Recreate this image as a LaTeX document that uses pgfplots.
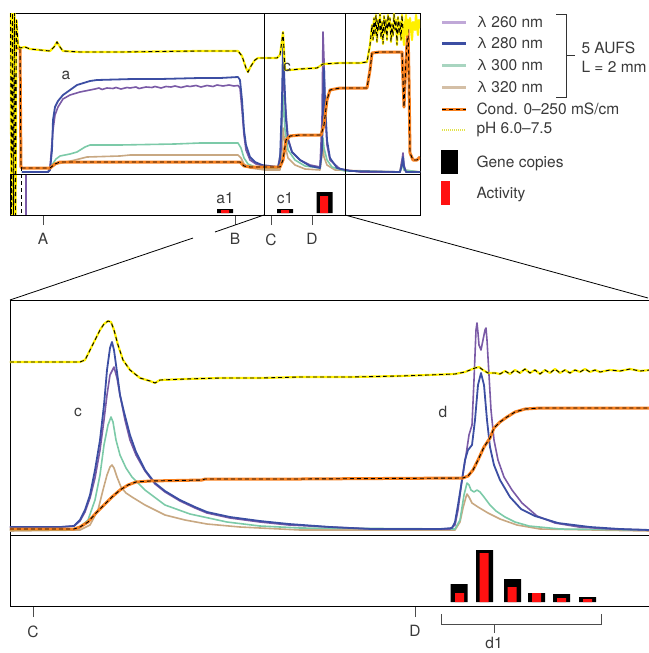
\documentclass[border=0pt]{standalone}
\usepackage{pgfplots}
\pgfplotsset{compat=1.18}
\usepackage{fontspec}
\setmainfont{TeX Gyre Heros}

\definecolor{c260}{HTML}{7A5AA6}
\definecolor{c280}{HTML}{3C4EA3}
\definecolor{c300}{HTML}{7CCAA8}
\definecolor{c320}{HTML}{C8A882}
\definecolor{cond}{HTML}{F7801E}
\definecolor{ph}{HTML}{FFF000}
\definecolor{actred}{HTML}{FF1111}
\definecolor{txt}{HTML}{3A3A3A}
\definecolor{l260}{HTML}{C0A8D8}
\definecolor{l300}{HTML}{A8D5C0}
\definecolor{l320}{HTML}{D4BFA6}
\definecolor{lph}{HTML}{E3E34A}

\pgfplotsset{
  panel/.style={scale only axis, no markers, axis line style={black, line width=0.9pt}, ticks=none},
  w260/.style={c260, line width=1.6pt, line join=round},
  w280/.style={c280, line width=1.8pt, line join=round},
  w300/.style={c300, line width=1.6pt, line join=round},
  w320/.style={c320, line width=1.6pt, line join=round},
  wcond/.style={cond, line width=3pt, line join=round},
  wph/.style={ph, line width=2.2pt, line join=round},
  wdash/.style={black, line width=0.9pt, dash pattern=on 4pt off 3pt},
  barax/.style={scale only axis, axis line style={black, line width=0.9pt}, ytick=\empty,
    xtick pos=lower, tick align=outside, major tick length=10pt,
    tick style={black!70, line width=0.8pt}, xticklabel style={yshift=-5pt}},
}

\begin{document}
\begin{tikzpicture}[font=\fontsize{15.5}{18}\selectfont, every node/.append style={text=txt}]
\useasboundingbox (0pt,0pt) rectangle (648pt,-653pt);

% ---------- top panel, traces ----------
\begin{axis}[panel, at={(10pt,-13pt)}, anchor=north west, width=410pt, height=202pt,
  xmin=10, xmax=420, ymin=13, ymax=215, y dir=reverse]
\addplot[w320] coordinates {(22,172) (48,172) (52,167) (56,164) (62,163) (75,160) (87,157) (120,156) (130,155) (238,155) (241,158) (244,164) (250,168) (265,170) (280,170) (282,150) (283,128) (285,145) (288,158) (295,165) (305,169) (320,170) (322,155) (323,147) (324,157) (327,165) (335,170) (400,172) (402,160) (404,170) (420,172)};
\addplot[w300] coordinates {(22,172) (48,172) (52,165) (56,159) (60,156) (70,154) (77,152) (85,147) (90,145) (120,145) (175,144) (200,143) (238,143) (241,148) (244,158) (248,164) (255,167) (265,168) (278,168) (281,150) (283,95) (285,130) (288,150) (295,160) (305,166) (320,168) (322,150) (323,138) (324,148) (327,160) (332,167) (345,171) (400,172) (402,163) (404,170) (420,172)};
\addplot[w260] coordinates {(30,172) (48,172) (50,168) (53,130) (55,115) (58,107) (63,99) (70,95) (80,92) (90,90) (95,89) (99,88) (102,89.5) (107,88) (113,88.5) (116,87.5) (121,89) (127,87.5) (130,88) (136,87) (139,88.5) (146,87) (152,87.5) (155,86.5) (161,88) (166,86.5) (171,87) (175,86) (181,87.5) (187,86) (190,86.5) (196,85.5) (201,87) (207,85.5) (213,86.5) (217,85) (223,86) (229,85) (234,86) (238,85.5) (240,88) (242,110) (244,135) (246,150) (250,160) (256,164) (264,166) (278,167) (281,150) (283,68) (285,100) (288,138) (292,152) (300,160) (310,165) (320,167) (322,120) (323,32) (324,60) (325,110) (327,145) (330,160) (340,169) (360,172) (400,172) (402,160) (403,153) (404,165) (406,172) (420,172)};
\addplot[w260] coordinates {(26,174) (26,215)};
\addplot[w280] coordinates {(22,172) (48,172) (50,170) (52,150) (53,120) (55,107) (58,101) (63,95) (70,90) (77,85) (90,81) (97,80) (133,79) (160,79) (200,78) (220,78) (238,77) (240,80) (242,100) (244,130) (246,145) (250,157) (255,162) (262,165) (270,166) (278,167) (280,160) (282,100) (283,45) (284,70) (286,120) (288,140) (292,152) (300,160) (310,166) (320,168) (322,150) (323,110) (324,68) (325,100) (327,140) (330,158) (337,168) (350,171) (400,172) (402,165) (403,157) (404,167) (406,172) (420,172)};
\addplot[wcond] coordinates {(12,215) (13,48) (20,48) (21,167) (22,168) (50,168) (55,164) (60,162) (240,162) (244,166) (250,167) (280,167) (283,160) (286,140) (290,136) (300,135) (321,135) (324,125) (327,100) (330,90) (340,88) (367,88) (370,70) (372,53) (380,52) (402,52) (403,80) (404,107) (406,60) (408,25) (409,80) (410,153) (413,160) (417,160) (420,157)};
\addplot[wdash] coordinates {(12,215) (13,48) (20,48) (21,167) (22,168) (50,168) (55,164) (60,162) (240,162) (244,166) (250,167) (280,167) (283,160) (286,140) (290,136) (300,135) (321,135) (324,125) (327,100) (330,90) (340,88) (367,88) (370,70) (372,53) (380,52) (402,52) (403,80) (404,107) (406,60) (408,25) (409,80) (410,153) (413,160) (417,160) (420,157)};
\addplot[wdash] coordinates {(21,167) (21,215)};
\addplot[wph] coordinates {(10.5,13) (11.5,215) (12.5,13) (13.5,215) (14.5,13) (15.5,215) (16.5,20) (18,45) (20,48) (25,47) (30,49) (40,50) (50,51) (54,47) (57,42) (60,47) (63,51) (80,52) (120,52) (200,51) (238,51) (242,56) (246,68) (248,72) (251,66) (255,60) (258,58) (277,58) (280,55) (282,40) (283,32) (284,50) (285,70) (290,70) (300,69) (317,68) (320,66) (323,64) (340,63) (360,63) (367,62) (370,45) (372,25) (373,40) (374,18) (375,35) (376,15) (377,42) (378,20) (379,30) (380,14) (381,38) (382,22) (383,44) (384,16) (385,33) (386,20) (387,40) (388,15) (389,28) (390,18) (391,42) (392,24) (393,36) (394,14) (395,30) (396,20) (397,45) (398,17) (399,34) (400,22) (401,40) (402,15) (403,30) (404,45) (405,25) (406,15) (407,35) (408,20) (409,28) (410,18) (412,40) (413,22) (415,30) (416,15) (418,35) (419,20) (420,28)};
\addplot[wdash] coordinates {(10.5,13) (11.5,215) (12.5,13) (13.5,215) (14.5,13) (15.5,215) (16.5,20) (18,45) (20,48) (25,47) (30,49) (40,50) (50,51) (54,47) (57,42) (60,47) (63,51) (80,52) (120,52) (200,51) (238,51) (242,56) (246,68) (248,72) (251,66) (255,60) (258,58) (277,58) (280,55) (282,40) (283,32) (284,50) (285,70) (290,70) (300,69) (317,68) (320,66) (323,64) (340,63) (360,63) (367,62) (370,45) (372,25) (373,40) (374,18) (375,35) (376,15) (377,42) (378,20) (379,30) (380,14) (381,38) (382,22) (383,44) (384,16) (385,33) (386,20) (387,40) (388,15) (389,28) (390,18) (391,42) (392,24) (393,36) (394,14) (395,30) (396,20) (397,45) (398,17) (399,34) (400,22) (401,40) (402,15) (403,30)};
\draw[black, line width=0.9pt] (axis cs:264,13) -- (axis cs:264,215);
\draw[black, line width=0.9pt] (axis cs:345,13) -- (axis cs:345,215);
\end{axis}

% ---------- top panel, bars ----------
\begin{axis}[barax, at={(10pt,-215pt)}, anchor=south west, width=410pt, height=41pt,
  xmin=10, xmax=420, ymin=-2, ymax=39,
  xtick={43,235,271,312}, xticklabels={A,B,C,D}]
\addplot[ybar, bar width=16, bar shift=0pt, fill=black, draw=none] coordinates {(225,4) (285,4) (324.5,21)};
\addplot[ybar, bar width=8, bar shift=0pt, fill=actred, draw=none] coordinates {(225,3) (285,3) (324,17)};
\end{axis}

% ---------- bottom panel, traces ----------
\begin{axis}[panel, at={(10pt,-300pt)}, anchor=north west, width=640pt, height=235pt,
  xmin=10, xmax=650, ymin=300, ymax=535, y dir=reverse]
\addplot[w320] coordinates {(10,531) (80,530) (90,525) (98,510) (103,490) (107,475) (110,467) (112,465) (114,468) (117,477) (121,487) (126,493) (132,497) (145,505) (165,515) (185,520) (207,524) (240,527) (300,530) (455,530) (460,522) (463,508) (466,497) (467,494) (469,497) (472,503) (478,507) (488,513) (500,519) (517,525) (540,529) (650,531)};
\addplot[w300] coordinates {(10,530) (70,530) (80,527) (88,520) (95,500) (100,475) (104,445) (108,425) (111,417) (113,422) (116,440) (120,455) (126,468) (132,477) (145,490) (165,505) (190,514) (227,522) (260,526) (300,528) (455,529) (460,520) (464,495) (467,483) (469,485) (471,490) (474,492) (477,490) (480,492) (484,497) (490,505) (496,511) (505,517) (515,522) (529,526) (560,529) (650,530)};
\addplot[w260] coordinates {(10,527) (60,527) (74,526) (80,521) (85,512) (90,498) (95,478) (100,450) (104,420) (107,395) (110,375) (114,367) (117,378) (120,395) (125,420) (130,440) (136,455) (145,471) (155,484) (165,492) (180,501) (195,508) (207,513) (230,518) (260,522) (289,525) (330,527) (372,529) (450,529) (455,525) (458,510) (462,480) (466,455) (469,435) (472,425) (474,380) (476,330) (477,323) (478,333) (479,345) (481,350) (483,340) (485,330) (486,328) (487,340) (489,375) (491,410) (494,440) (498,460) (504,477) (512,490) (522,503) (537,516) (555,523) (579,527) (610,529) (650,530)};
\addplot[w280] coordinates {(10,527) (60,527) (74,526) (80,520) (85,510) (90,495) (95,470) (100,440) (104,405) (107,370) (110,348) (112,342) (114,350) (117,372) (120,395) (124,412) (130,435) (136,452) (145,470) (155,483) (165,491) (180,500) (195,507) (207,512) (230,517) (260,521) (289,524) (330,527) (372,529) (440,529) (452,528) (455,522) (458,505) (462,480) (465,460) (468,450) (472,445) (475,420) (478,385) (481,373) (484,385) (487,420) (490,447) (494,465) (500,480) (510,497) (521,509) (535,516) (558,523) (590,527) (620,529) (650,530)};
\addplot[wcond] coordinates {(10,529) (74,529) (80,527) (88,522) (96,513) (104,505) (112,497) (120,490) (128,485) (136,482) (150,481) (202,480) (205,479) (300,479) (463,478) (468,476) (473,470) (478,460) (484,447) (490,438) (494,428) (500,422) (507,417) (515,412) (525,409) (540,408) (650,408)};
\addplot[wdash] coordinates {(10,529) (74,529) (80,527) (88,522) (96,513) (104,505) (112,497) (120,490) (128,485) (136,482) (150,481) (202,480) (205,479) (300,479) (463,478) (468,476) (473,470) (478,460) (484,447) (490,438) (494,428) (500,422) (507,417) (515,412) (525,409) (540,408) (650,408)};
\addplot[wph] coordinates {(10,362) (80,362) (85,360) (89,352) (95,340) (100,330) (104,324) (108,321) (111,322) (114,330) (118,345) (123,360) (130,370) (140,378) (150,381) (155,383) (160,380) (186,379) (220,378) (260,378) (300,377) (351,377) (400,376) (455,374) (465,372) (470,370) (475,368) (479,367) (483,370) (488,373) (495,373) (500,374) (505,371) (510,374) (515,370) (520,373) (525,369) (530,373) (535,370) (540,374) (545,370) (550,373) (555,369) (560,373) (565,370) (570,373) (575,370) (580,372) (585,369) (590,372) (595,370) (600,372) (610,370) (620,371) (630,369) (640,371) (650,370)};
\addplot[wdash] coordinates {(10,362) (80,362) (85,360) (89,352) (95,340) (100,330) (104,324) (108,321) (111,322) (114,330) (118,345) (123,360) (130,370) (140,378) (150,381) (155,383) (160,380) (186,379) (220,378) (260,378) (300,377) (351,377) (400,376) (455,374) (465,372) (470,370) (475,368) (479,367) (483,370) (488,373) (495,373) (500,374) (505,371) (510,374) (515,370) (520,373) (525,369) (530,373) (535,370) (540,374) (545,370) (550,373) (555,369) (560,373) (565,370) (570,373) (575,370) (580,372) (585,369) (590,372) (595,370) (600,372) (610,370) (620,371) (630,369) (640,371) (650,370)};
\end{axis}

% ---------- bottom panel, bars ----------
\begin{axis}[barax, at={(10pt,-606pt)}, anchor=south west, width=640pt, height=71pt,
  xmin=10, xmax=650, ymin=-4, ymax=67, major tick length=11pt,
  xtick={33,415}, xticklabels={C,D}]
\addplot[ybar, bar width=17, bar shift=0pt, fill=black, draw=none] coordinates {(459,18) (484.5,52) (512.5,23) (536.5,9) (561.5,8) (587.5,5)};
\addplot[ybar, bar width=9, bar shift=0pt, fill=actred, draw=none] coordinates {(459.5,9) (484,49) (512,15) (536.5,9) (561.5,4) (587.5,3)};
\end{axis}

% ---------- labels, zoom lines, legend ----------
\begin{scope}[x=1pt, y=-1pt]
\node at (66,75) {a};
\node at (287,67) {c};
\node at (78,412) {c};
\node at (443,412) {d};
\node at (225,198) {a1};
\node at (285,198) {c1};
\draw[black, line width=0.8pt] (264,215) -- (215,232) (193,238) -- (10,300);
\draw[black, line width=0.8pt] (345,215) -- (648,298);
\draw[black!70, line width=0.9pt] (441,614) -- (441,624) -- (601,624) -- (601,614) (494,624) -- (494,633);
\node[inner sep=0pt, anchor=base] at (494,648) {d1};
% legend
\draw[l260, line width=3pt] (442,22) -- (466,22);
\draw[c280, line width=3pt] (442,43) -- (466,43);
\draw[l300, line width=3pt] (442,65) -- (466,65);
\draw[l320, line width=3pt] (442,87) -- (466,87);
\draw[cond, line width=3pt] (442,109) -- (466,109);
\draw[black, line width=0.9pt, dash pattern=on 4pt off 3pt] (442,109) -- (466,109);
\draw[lph, line width=2pt, dash pattern=on 1pt off 1pt] (442,130) -- (466,130);
\fill[black] (441,150) rectangle (458,174);
\fill[actred] (441,181) rectangle (450,205);
\node[anchor=west] at (473,22) {λ 260 nm};
\node[anchor=west] at (473,43) {λ 280 nm};
\node[anchor=west] at (473,65) {λ 300 nm};
\node[anchor=west] at (473,87) {λ 320 nm};
\node[anchor=west] at (473,109) {Cond. 0–250 mS/cm};
\node[anchor=west] at (473,130) {pH 6.0–7.5};
\node[anchor=west] at (473,163) {Gene copies};
\node[anchor=west] at (473,195) {Activity};
\draw[black!80, line width=0.8pt] (556,14) -- (566,14) -- (566,97) -- (556,97) (566,55) -- (575,55);
\node[anchor=west] at (578,48) {5 AUFS};
\node[anchor=west] at (578,67) {L = 2 mm};
\end{scope}
\end{tikzpicture}
\end{document}
